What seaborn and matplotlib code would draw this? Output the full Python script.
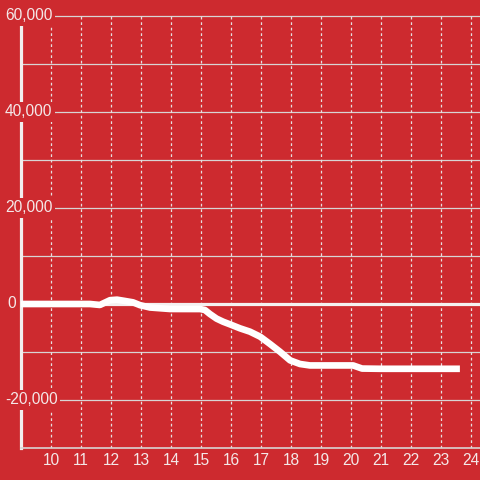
import matplotlib
matplotlib.use("Agg")
import matplotlib.pyplot as plt
import seaborn as sns
import pandas as pd

hours = [9.0, 11.3, 11.63, 11.8, 11.97, 12.2, 12.4, 12.73, 12.97, 13.3, 13.97, 14.97,
         15.13, 15.3, 15.52, 15.74, 15.97, 16.3, 16.63, 16.97, 17.3, 17.63, 17.97,
         18.3, 18.63, 19.0, 20.07, 20.37, 21.0, 22.0, 23.63]
values = [0, 0, -200, 300, 800, 900, 700, 350, -250, -730, -1040, -1050,
          -1250, -2100, -3050, -3700, -4250, -5070, -5760, -6800, -8330, -9930, -11740,
          -12500, -12800, -12800, -12800, -13450, -13500, -13500, -13500]

y_ticks = [60000, 40000, 20000, 0, -20000]
y_tick_labels = ["60,000", "40,000", "20,000", "0", "-20,000"]
x_ticks = list(range(10, 25))
x_tick_labels = [str(v) for v in x_ticks]

bg = "#cd2a2f"
txt = "#f4e8e8"

sns.set_theme(style="white")
plt.rcParams["font.family"] = ["Liberation Sans", "DejaVu Sans"]

fig = plt.figure(figsize=(4.8, 4.8), dpi=100, facecolor=bg)
ax = fig.add_axes([21 / 480, 32 / 480, 459 / 480, 432 / 480])
ax.set_facecolor(bg)

ax.set_xlim(9, 24.3)
ax.set_ylim(-30000, 60000)

# horizontal grid
for gy in range(-20000, 60001, 10000):
    if gy == 0:
        continue
    ax.axhline(gy, color="#d8d4d4", lw=0.9, zorder=1, clip_on=False)
# vertical dotted grid
for gx in x_ticks:
    ax.axvline(gx, color="#e6e0e0", lw=0.9, ls=(0, (2.2, 2.2)), zorder=1)
# zero line
ax.axhline(0, color="#f4f0f0", lw=2.3, zorder=2)

df = pd.DataFrame({"hour": hours, "value": values})
sns.lineplot(data=df, x="hour", y="value", ax=ax, color="white", linewidth=4.8,
             solid_capstyle="butt", solid_joinstyle="round", zorder=3)

ax.set_xlabel("")
ax.set_ylabel("")

for s in ["top", "right"]:
    ax.spines[s].set_visible(False)
ax.spines["left"].set_color("#f2eeee")
ax.spines["left"].set_linewidth(2.3)
ax.spines["bottom"].set_color("#d8d4d4")
ax.spines["bottom"].set_linewidth(1.2)

ax.set_yticks([])
ax.set_xticks(x_ticks)
ax.set_xticklabels(x_tick_labels)
ax.tick_params(axis="x", length=0, pad=3.5, labelsize=11.2, labelcolor=txt)

for yv, lab in zip(y_ticks, y_tick_labels):
    if len(lab) > 1:
        xpos, ha = (5 - 21) / 459, "left"
    else:
        xpos, ha = (16 - 21) / 459, "right"
    ax.text(xpos, yv, lab, transform=ax.get_yaxis_transform(), ha=ha, va="center",
            fontsize=11.2, color=txt, zorder=6, clip_on=False,
            bbox=dict(boxstyle="square,pad=0.15", facecolor=bg, edgecolor="none"))

fig.savefig("out.png", dpi=100, facecolor=bg)
